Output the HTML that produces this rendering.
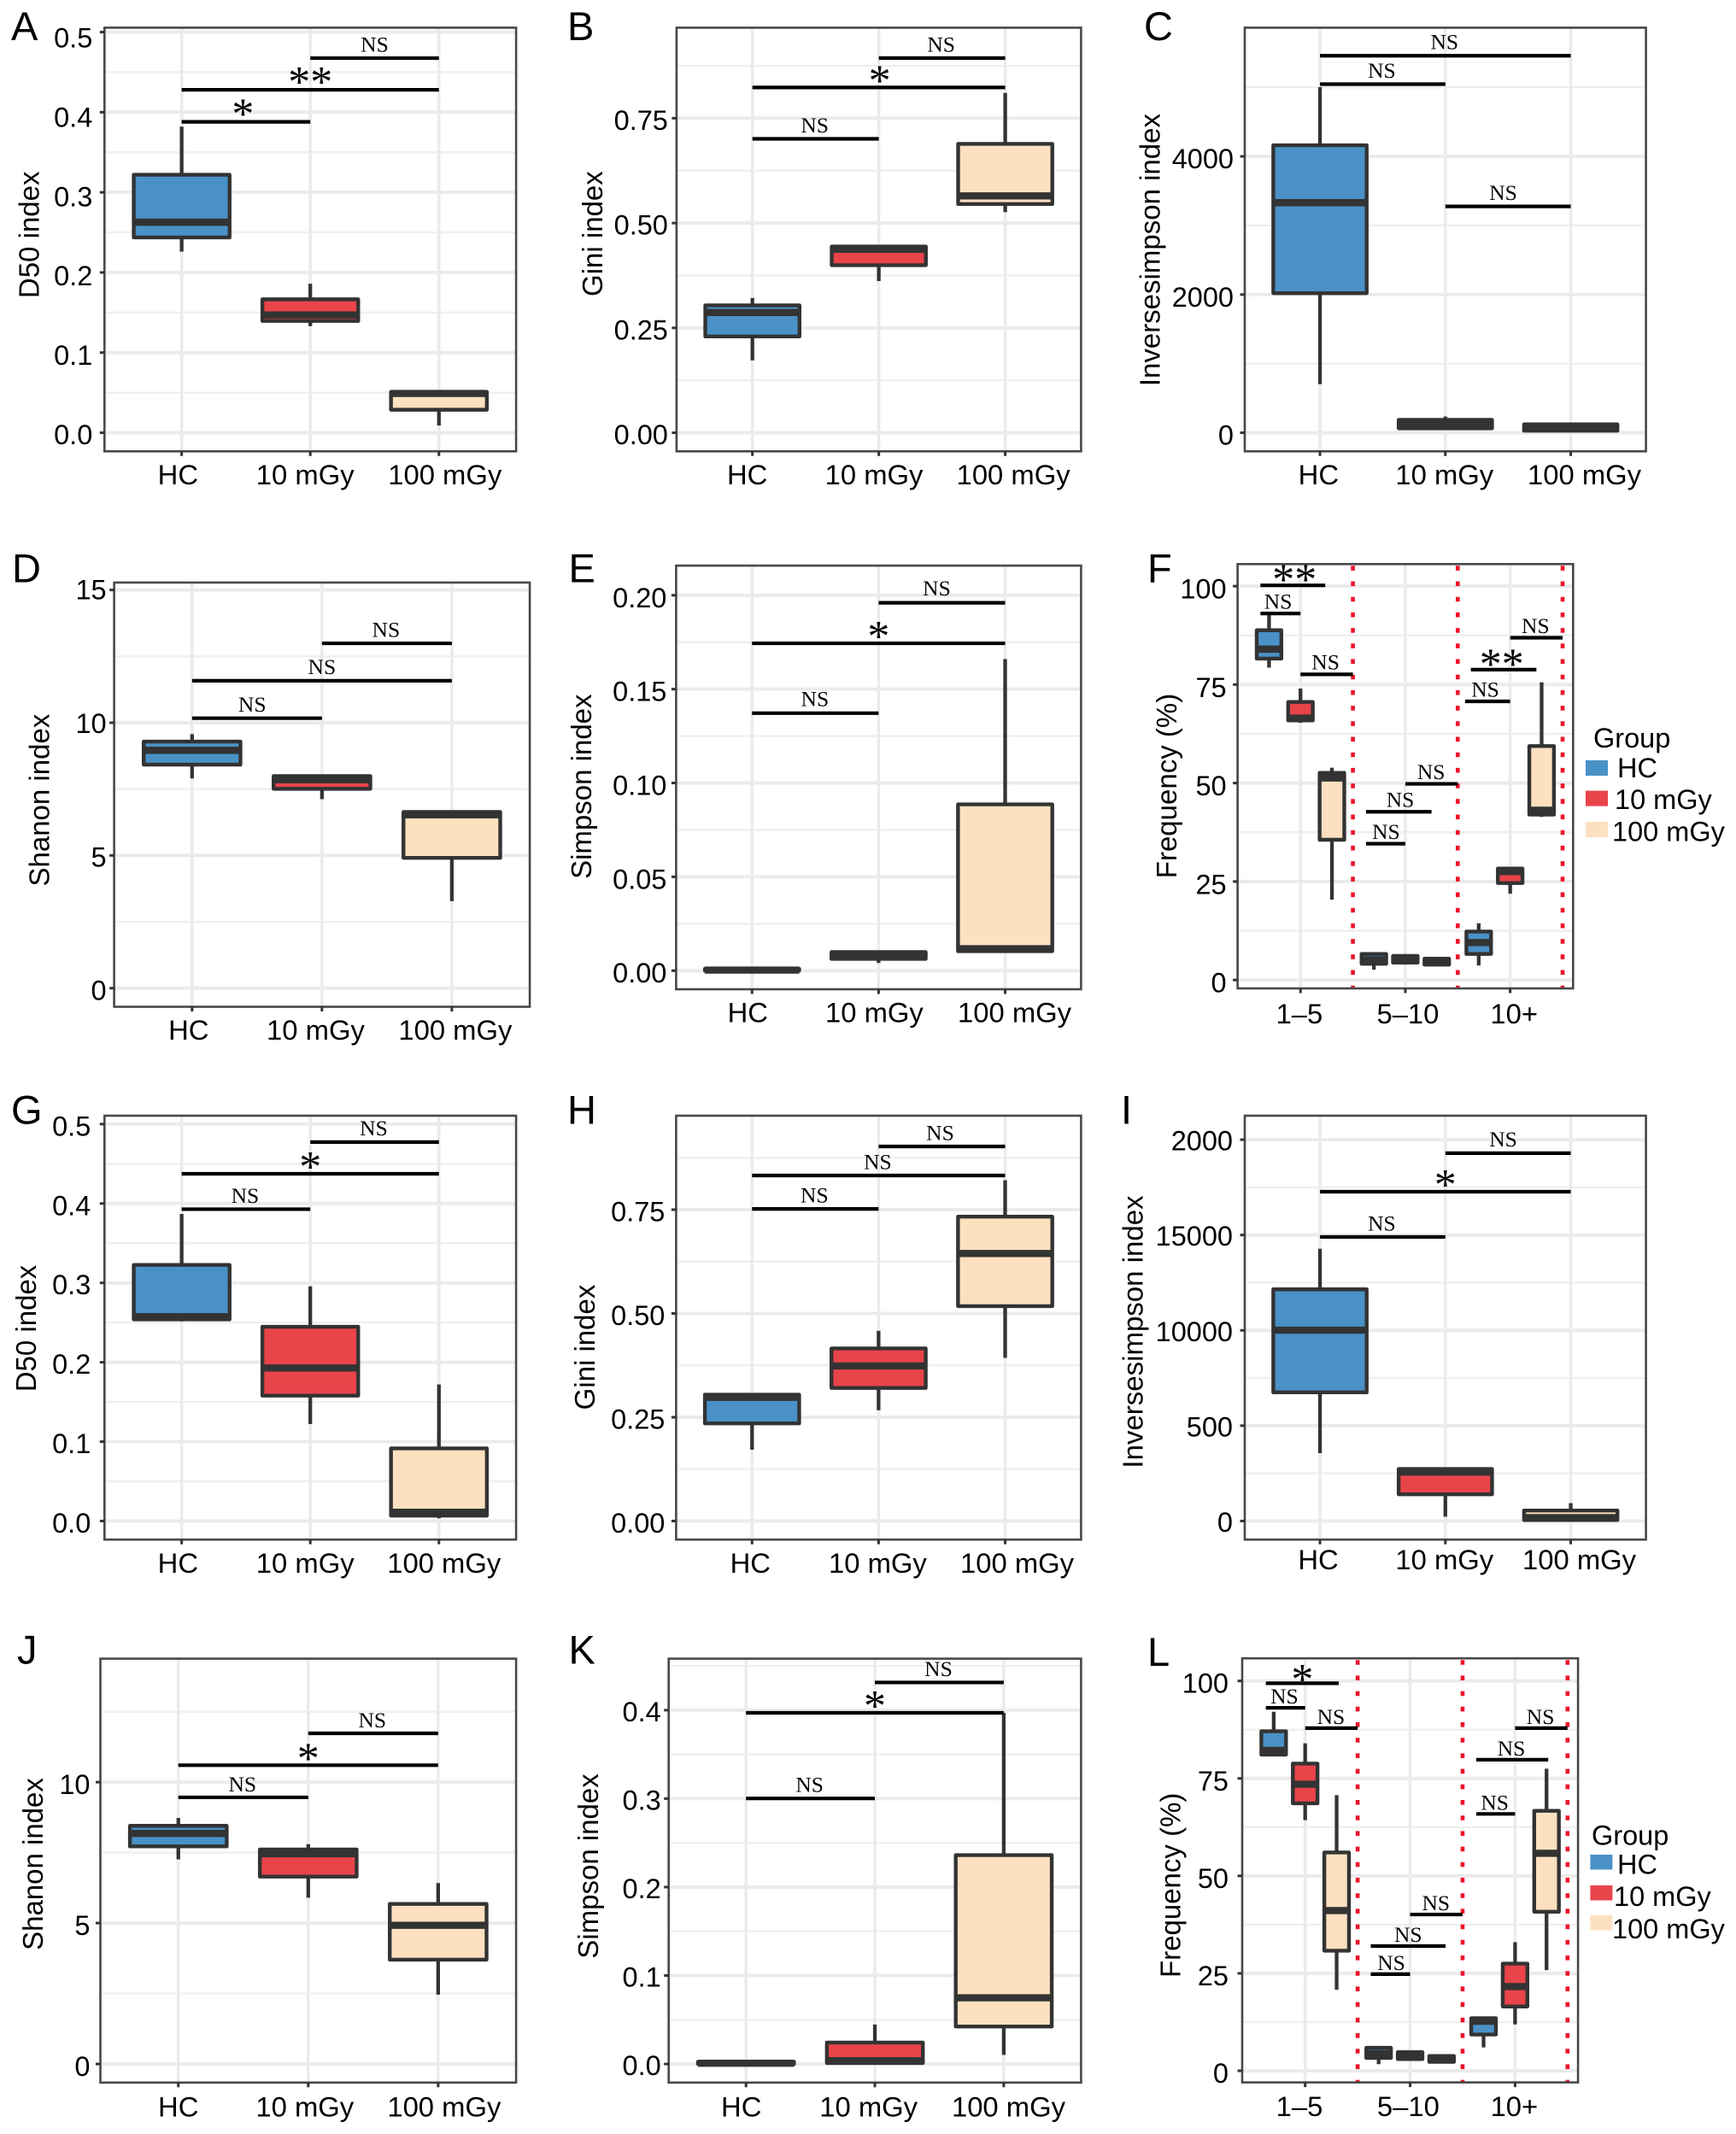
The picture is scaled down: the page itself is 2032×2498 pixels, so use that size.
<!DOCTYPE html>
<html lang="en">
<head>
<meta charset="utf-8">
<title>Diversity index box plots, panels A to L</title>
<style>
html,body{margin:0;padding:0;background:#fff;}
svg{display:block;}
text{font-family:"Liberation Sans",sans-serif;fill:#000;}
.sig{font-family:"Liberation Serif",serif;}
</style>
</head>
<body>
<svg id="figure" xmlns="http://www.w3.org/2000/svg" width="2032" height="2498" viewBox="0 0 2032 2498">
<rect x="0" y="0" width="2032" height="2498" fill="#ffffff"></rect>
</svg>
<script>
/* ---------- shared categories ---------- */
const doseCategories = ['HC', '10 mGy', '100 mGy'];
const cloneBins = ['1–5', '5–10', '10+'];
const legendGroups = ['HC', '10 mGy', '100 mGy'];

/* ---------- panel A ---------- */
const aDomain = [-0.0232, 0.5055];
const aTicks = [0, 0.1, 0.2, 0.3, 0.4, 0.5];
const aTickLabels = ['0.0', '0.1', '0.2', '0.3', '0.4', '0.5'];
const aLow = [0.226, 0.133, 0.009];
const aQ1 = [0.2437, 0.1395, 0.0287];
const aMedian = [0.2627, 0.147, 0.049];
const aQ3 = [0.322, 0.1665, 0.051];
const aHigh = [0.382, 0.186, 0.051];
const aSigFrom = [2, 1, 1];
const aSigTo = [3, 3, 2];
const aSigY = [0.4675, 0.428, 0.388];
const aSigText = ['NS', '**', '*'];

/* ---------- panel B ---------- */
const bDomain = [-0.0443, 0.9659];
const bTicks = [0, 0.25, 0.5, 0.75];
const bTickLabels = ['0.00', '0.25', '0.50', '0.75'];
const bLow = [0.1724, 0.3617, 0.526];
const bQ1 = [0.2296, 0.3996, 0.5454];
const bMedian = [0.2868, 0.4375, 0.5647];
const bQ3 = [0.3037, 0.444, 0.6888];
const bHigh = [0.3214, 0.448, 0.8104];
const bSigFrom = [2, 1, 1];
const bSigTo = [3, 3, 2];
const bSigY = [0.8934, 0.8233, 0.7009];
const bSigText = ['NS', '*', 'NS'];

/* ---------- panel C ---------- */
const cDomain = [-269, 5863];
const cTicks = [0, 2000, 4000];
const cTickLabels = ['0', '2000', '4000'];
const cLow = [704, 60, 5];
const cQ1 = [2020, 64, 29];
const cMedian = [3330, 127, 73];
const cQ3 = [4161, 186, 122];
const cHigh = [5002, 235, 122];
const cSigFrom = [1, 1, 2];
const cSigTo = [3, 2, 3];
const cSigY = [5457, 5046, 3276];
const cSigText = ['NS', 'NS', 'NS'];

/* ---------- panel D ---------- */
const dDomain = [-0.7, 15.28];
const dTicks = [0, 5, 10, 15];
const dTickLabels = ['0', '5', '10', '15'];
const dLow = [7.9, 7.12, 3.28];
const dQ1 = [8.42, 7.51, 4.91];
const dMedian = [8.96, 7.85, 6.53];
const dQ3 = [9.29, 7.99, 6.64];
const dHigh = [9.57, 7.99, 6.64];
const dSigFrom = [2, 1, 1];
const dSigTo = [3, 3, 2];
const dSigY = [12.99, 11.58, 10.17];
const dSigText = ['NS', 'NS', 'NS'];

/* ---------- panel E ---------- */
const eDomain = [-0.0099, 0.2158];
const eTicks = [0, 0.05, 0.1, 0.15, 0.2];
const eTickLabels = ['0.00', '0.05', '0.10', '0.15', '0.20'];
const eLow = [0, 0.0041, 0.0104];
const eQ1 = [0, 0.0063, 0.0104];
const eMedian = [0.0003, 0.0081, 0.0117];
const eQ3 = [0.001, 0.0099, 0.0886];
const eHigh = [0.001, 0.0099, 0.166];
const eSigFrom = [2, 1, 1];
const eSigTo = [3, 3, 2];
const eSigY = [0.196, 0.1744, 0.1372];
const eSigText = ['NS', '*', 'NS'];

/* ---------- panel F (bins x groups, read row by row) ---------- */
const fDomain = [-2.14, 105.6];
const fTicks = [0, 25, 50, 75, 100];
const fTickLabels = ['0', '25', '50', '75', '100'];
const fLow = [79.3, 65.3, 20.4, 2.6, 3.9, 3.9, 3.7, 21.9, 41.4];
const fQ1 = [81.6, 65.9, 35.6, 4.1, 4.4, 3.9, 6.6, 24.6, 42];
const fMedian = [84, 66.5, 51.3, 5.1, 5.2, 4.6, 9.5, 27.5, 43.1];
const fQ3 = [88.8, 70.6, 52.6, 6.6, 6.1, 5.4, 12.3, 28.3, 59.4];
const fHigh = [92.9, 74, 53.9, 6.6, 6.1, 5.8, 14.4, 28.3, 75.6];
const fSigFrom = [0.618, 0.618, 1, 1.625, 1.625, 2, 2.57, 2.625, 3];
const fSigTo = [1.236, 1, 1.5, 2, 2.25, 2.5, 3, 3.25, 3.5];
const fSigY = [100.2, 93.05, 77.6, 34.6, 42.7, 49.8, 70.75, 78.8, 86.9];
const fSigText = ['**', 'NS', 'NS', 'NS', 'NS', 'NS', 'NS', '**', 'NS'];
const fSeparators = [1.5, 2.5, 3.5];

/* ---------- panel G ---------- */
const gDomain = [-0.0234, 0.5106];
const gTicks = [0, 0.1, 0.2, 0.3, 0.4, 0.5];
const gTickLabels = ['0.0', '0.1', '0.2', '0.3', '0.4', '0.5'];
const gLow = [0.2515, 0.1221, 0.0034];
const gQ1 = [0.254, 0.1579, 0.0068];
const gMedian = [0.2574, 0.1928, 0.011];
const gQ3 = [0.3226, 0.2447, 0.0915];
const gHigh = [0.3868, 0.2957, 0.172];
const gSigFrom = [2, 1, 1];
const gSigTo = [3, 3, 2];
const gSigY = [0.4774, 0.4374, 0.3928];
const gSigText = ['NS', '*', 'NS'];

/* ---------- panel H ---------- */
const hDomain = [-0.0448, 0.9764];
const hTicks = [0, 0.25, 0.5, 0.75];
const hTickLabels = ['0.00', '0.25', '0.50', '0.75'];
const hLow = [0.1717, 0.2669, 0.393];
const hQ1 = [0.2351, 0.3206, 0.5175];
const hMedian = [0.2978, 0.3735, 0.6444];
const hQ3 = [0.3043, 0.4158, 0.7331];
const hHigh = [0.3043, 0.4581, 0.821];
const hSigFrom = [2, 1, 1];
const hSigTo = [3, 3, 2];
const hSigY = [0.9023, 0.8324, 0.7518];
const hSigText = ['NS', 'NS', 'NS'];

/* ---------- panel I (tick labels printed as in the source figure) ---------- */
const iDomain = [-974, 21258];
const iTicks = [0, 5000, 10000, 15000, 20000];
const iTickLabels = ['0', '500', '10000', '15000', '2000'];
const iLow = [3561, 230, 18];
const iQ1 = [6749, 1399, 53];
const iMedian = [10009, 2569, 177];
const iQ3 = [12152, 2728, 549];
const iHigh = [14278, 2728, 939];
const iSigFrom = [2, 1, 1];
const iSigTo = [3, 3, 2];
const iSigY = [19292, 17272, 14898];
const iSigText = ['NS', '*', 'NS'];

/* ---------- panel J ---------- */
const jDomain = [-0.659, 14.38];
const jTicks = [0, 5, 10];
const jTickLabels = ['0', '5', '10'];
const jLow = [7.26, 5.9, 2.46];
const jQ1 = [7.72, 6.65, 3.7];
const jMedian = [8.18, 7.46, 4.92];
const jQ3 = [8.45, 7.61, 5.68];
const jHigh = [8.73, 7.8, 6.42];
const jSigFrom = [2, 1, 1];
const jSigTo = [3, 3, 2];
const jSigY = [11.73, 10.6, 9.46];
const jSigText = ['NS', '*', 'NS'];

/* ---------- panel K ---------- */
const kDomain = [-0.021, 0.4582];
const kTicks = [0, 0.1, 0.2, 0.3, 0.4];
const kTickLabels = ['0.0', '0.1', '0.2', '0.3', '0.4'];
const kLow = [0, 0.0008, 0.0103];
const kQ1 = [0, 0.0011, 0.0424];
const kMedian = [0.0008, 0.0037, 0.0748];
const kQ3 = [0.0025, 0.0243, 0.2361];
const kHigh = [0.0025, 0.0446, 0.397];
const kSigFrom = [2, 1, 1];
const kSigTo = [3, 3, 2];
const kSigY = [0.4313, 0.397, 0.3002];
const kSigText = ['NS', '*', 'NS'];

/* ---------- panel L (bins x groups, read row by row) ---------- */
const lDomain = [-2.97, 105.8];
const lTicks = [0, 25, 50, 75, 100];
const lTickLabels = ['0', '25', '50', '75', '100'];
const lLow = [80.9, 64.3, 20.8, 1.7, 2.7, 1.9, 6, 11.9, 25.8];
const lQ1 = [81.1, 68.6, 30.8, 3.3, 3, 2.3, 9.3, 16.5, 40.8];
const lMedian = [82.2, 73.5, 41.1, 4.4, 3.9, 3, 12.7, 21.6, 55.8];
const lQ3 = [87.1, 78.8, 56, 5.9, 4.8, 3.8, 13.5, 27.5, 66.7];
const lHigh = [92.1, 84, 70.7, 5.9, 4.8, 3.8, 13.5, 33, 77.5];
const lSigFrom = [0.625, 0.625, 1, 1.625, 1.625, 2, 2.63, 2.63, 3];
const lSigTo = [1.32, 1, 1.5, 2, 2.338, 2.5, 3, 3.316, 3.5];
const lSigY = [99.4, 93.1, 87.9, 24.8, 32, 40.1, 65.9, 79.8, 87.9];
const lSigText = ['*', 'NS', 'NS', 'NS', 'NS', 'NS', 'NS', 'NS', 'NS'];
const lSeparators = [1.5, 2.5, 3.5];

/* ---------- look ---------- */
const groupColors = ['#4a91c7', '#e8444a', '#fde0bf'];
const INK = '#333333';

/* ---------- drawing helpers ---------- */
const NS = 'http://www.w3.org/2000/svg';
const root = document.getElementById('figure');

function make(tag, attrs, parent, text) {
  const el = document.createElementNS(NS, tag);
  for (const k in attrs) el.setAttribute(k, attrs[k]);
  if (text !== undefined) el.textContent = text;
  parent.appendChild(el);
  return el;
}

function slug(s) {
  return String(s).toLowerCase().replace(/[^a-z0-9]+/g, '-');
}

function drawPanel(cfg) {
  const L = cfg.layout;
  const scaleY = v => L.y1 - (v - cfg.domain[0]) / (cfg.domain[1] - cfg.domain[0]) * (L.y1 - L.y0);
  const unit = (L.x1 - L.x0) / 3.2;
  const scaleX = u => L.x0 + (u - 1 + 0.6) * unit;
  const id = cfg.letter.toLowerCase();

  const g = make('g', {}, root);
  
  

  /* panel background */
  const bg = make('rect', { x: L.x0, y: L.y0, width: L.x1 - L.x0, height: L.y1 - L.y0, fill: '#ffffff' }, g);
  
  

  /* minor grid */
  const step = cfg.ticks[1] - cfg.ticks[0];
  for (let i = -1; i < cfg.ticks.length; i++) {
    const v = cfg.ticks[0] + (i + 0.5) * step;
    if (v <= cfg.domain[0] || v >= cfg.domain[1]) continue;
    const m = make('line', { x1: L.x0, x2: L.x1, y1: scaleY(v), y2: scaleY(v), stroke: '#efefef', 'stroke-width': 2.4 }, g);
    
    
  }
  /* major grid */
  cfg.ticks.forEach(t => {
    const m = make('line', { x1: L.x0, x2: L.x1, y1: scaleY(t), y2: scaleY(t), stroke: '#ebebeb', 'stroke-width': 4 }, g);
    
    
  });
  cfg.categories.forEach((c, i) => {
    const m = make('line', { x1: scaleX(i + 1), x2: scaleX(i + 1), y1: L.y0, y2: L.y1, stroke: '#ebebeb', 'stroke-width': 3.6 }, g);
    
    
  });

  /* dotted separators */
  (cfg.separators || []).forEach(u => {
    const s = make('line', { x1: scaleX(u), x2: scaleX(u), y1: L.y0 + 2, y2: L.y1, stroke: '#ee1229', 'stroke-width': 4.6, 'stroke-dasharray': '5.6 12.6' }, g);
    
    
  });

  /* boxes */
  const dodged = cfg.low.length === 9;
  cfg.low.forEach((_, i) => {
    const group = dodged ? i % 3 : i;
    const u = dodged ? Math.floor(i / 3) + 1 + (group - 1) * 0.3 : i + 1;
    const width = (dodged ? 0.235 : 0.745) * unit;
    const cx = scaleX(u);
    const bx = make('g', {}, g);
    
    

    const up = make('line', { x1: cx, x2: cx, y1: scaleY(cfg.q3[i]), y2: scaleY(cfg.high[i]), stroke: INK, 'stroke-width': 4.3 }, bx);
    
    

    const down = make('line', { x1: cx, x2: cx, y1: scaleY(cfg.q1[i]), y2: scaleY(cfg.low[i]), stroke: INK, 'stroke-width': 4.3 }, bx);
    
    

    const top = scaleY(cfg.q3[i]);
    const bottom = scaleY(cfg.q1[i]);
    const r = make('rect', { x: cx - width / 2, y: top, width: width, height: Math.max(bottom - top, 0.5), fill: groupColors[group], stroke: INK, 'stroke-width': 4.4, 'stroke-linejoin': 'round' }, bx);
    
    

    const med = make('line', { x1: cx - width / 2, x2: cx + width / 2, y1: scaleY(cfg.median[i]), y2: scaleY(cfg.median[i]), stroke: INK, 'stroke-width': 8.4 }, bx);
    
    
  });

  /* significance brackets */
  cfg.sigFrom.forEach((from, i) => {
    const yy = scaleY(cfg.sigY[i]);
    const x1 = scaleX(from);
    const x2 = scaleX(cfg.sigTo[i]);
    const br = make('line', { x1: x1, x2: x2, y1: yy, y2: yy, stroke: '#000000', 'stroke-width': 4.2 }, g);
    
    

    const label = cfg.sigText[i];
    const isStar = label !== 'NS';
    const dx = (L.sigDx && L.sigDx[i]) || 0;
    const ty = isStar ? yy + 24.5 - L.starLift : yy - L.nsGap;
    const t = make('text', { x: (x1 + x2) / 2 + dx, y: ty, 'text-anchor': 'middle', class: 'sig', 'font-size': isStar ? 52 : 25.5, fill: isStar ? '#000' : '#1a1a1a' }, g, label);
    
    
  });

  /* frame */
  const fr = make('rect', { x: L.x0, y: L.y0, width: L.x1 - L.x0, height: L.y1 - L.y0, fill: 'none', stroke: '#484848', 'stroke-width': 2.6 }, g);
  
  

  /* y axis */
  cfg.ticks.forEach((t, i) => {
    const yy = scaleY(t);
    const mark = make('line', { x1: L.x0 - 5.5, x2: L.x0, y1: yy, y2: yy, stroke: INK, 'stroke-width': 3 }, g);
    
    

    const frac = cfg.ticks.length > 1 ? i / (cfg.ticks.length - 1) : 0;
    const shift = L.lblShift[0] + (L.lblShift[1] - L.lblShift[0]) * frac;
    const lab = make('text', { x: L.x0 - L.gap, y: yy + shift, 'text-anchor': 'end', 'font-size': 32.5 }, g, cfg.tickLabels[i]);
    
    
  });

  /* x axis */
  cfg.categories.forEach((c, i) => {
    const cx = scaleX(i + 1);
    const mark = make('line', { x1: cx, x2: cx, y1: L.y1, y2: L.y1 + 5.5, stroke: INK, 'stroke-width': 3 }, g);
    
    

    const lab = make('text', { x: cx + L.xs[i], y: L.y1 + L.xdy, 'text-anchor': 'middle', 'font-size': 32.8 }, g, c);
    
    
  });

  /* axis title */
  const title = make('text', { transform: 'translate(' + L.tx + ' ' + L.ty + ') rotate(-90)', 'text-anchor': 'middle', 'font-size': 33 }, g, cfg.title);
  
  

  /* panel letter */
  const letter = make('text', { x: L.lx, y: L.ly, 'font-size': 47 }, g, cfg.letter);
  
  
}

function drawLegend(cfg) {
  const g = make('g', {}, root);
  
  

  const head = make('text', { x: cfg.titleX, y: cfg.titleY, 'font-size': 32.5 }, g, 'Group');
  
  

  legendGroups.forEach((name, i) => {
    const sw = make('rect', { x: cfg.swatchX, y: cfg.swatchY[i], width: 26, height: cfg.swatchH, fill: groupColors[i] }, g);
    
    

    const lab = make('text', { x: cfg.labelX[i], y: cfg.labelY[i], 'font-size': 32.5 }, g, name);
    
    
  });
}

/* ---------- layout (page geometry only) ---------- */
const rowA = { y0: 32.4, y1: 528.3 };
const rowB = { y0: 1306, y1: 1802.2 };
const rowC = { y0: 1941.6, y1: 2437.8 };

drawPanel({
  letter: 'A', title: 'D50 index', categories: doseCategories, domain: aDomain, ticks: aTicks, tickLabels: aTickLabels,
  low: aLow, q1: aQ1, median: aMedian, q3: aQ3, high: aHigh, sigFrom: aSigFrom, sigTo: aSigTo, sigY: aSigY, sigText: aSigText,
  layout: { x0: 122.3, x1: 604.1, y0: rowA.y0, y1: rowA.y1, gap: 14, xdy: 38.8, xs: [-4.3, -6, 7], lblShift: [13.5, 18], tx: 45.5, ty: 274.8, lx: 13, ly: 47, nsGap: 7.7, starLift: 16.5, sigDx: [0, 0, -3.5] }
});
drawPanel({
  letter: 'B', title: 'Gini index', categories: doseCategories, domain: bDomain, ticks: bTicks, tickLabels: bTickLabels,
  low: bLow, q1: bQ1, median: bMedian, q3: bQ3, high: bHigh, sigFrom: bSigFrom, sigTo: bSigTo, sigY: bSigY, sigText: bSigText,
  layout: { x0: 791.9, x1: 1265.4, y0: rowA.y0, y1: rowA.y1, gap: 10, xdy: 38.8, xs: [-6, -5.6, 9.5], lblShift: [13.5, 13.5], tx: 705, ty: 273.6, lx: 664, ly: 47, nsGap: 7.7, starLift: 15.5, sigDx: [-1, 1, -1] }
});
drawPanel({
  letter: 'C', title: 'Inversesimpson index', categories: doseCategories, domain: cDomain, ticks: cTicks, tickLabels: cTickLabels,
  low: cLow, q1: cQ1, median: cMedian, q3: cQ3, high: cHigh, sigFrom: cSigFrom, sigTo: cSigTo, sigY: cSigY, sigText: cSigText,
  layout: { x0: 1457, x1: 1926.6, y0: rowA.y0, y1: rowA.y1, gap: 13, xdy: 38.5, xs: [-1.7, -1, 16], lblShift: [14, 14], tx: 1357.7, ty: 292.6, lx: 1339, ly: 47, nsGap: 7.7, starLift: 15.5, sigDx: [-1, -1, -5.6] }
});
drawPanel({
  letter: 'D', title: 'Shanon index', categories: doseCategories, domain: dDomain, ticks: dTicks, tickLabels: dTickLabels,
  low: dLow, q1: dQ1, median: dMedian, q3: dQ3, high: dHigh, sigFrom: dSigFrom, sigTo: dSigTo, sigY: dSigY, sigText: dSigText,
  layout: { x0: 133.6, x1: 620.1, y0: 681.9, y1: 1178.5, gap: 9, xdy: 38.5, xs: [-4, -7.4, 4], lblShift: [14, 11], tx: 57.7, ty: 936.6, lx: 14, ly: 681.5, nsGap: 7.7, starLift: 15.5, sigDx: [-1, 0, -5.6] }
});
drawPanel({
  letter: 'E', title: 'Simpson index', categories: doseCategories, domain: eDomain, ticks: eTicks, tickLabels: eTickLabels,
  low: eLow, q1: eQ1, median: eMedian, q3: eQ3, high: eHigh, sigFrom: eSigFrom, sigTo: eSigTo, sigY: eSigY, sigText: eSigText,
  layout: { x0: 791.4, x1: 1265.4, y0: 662.1, y1: 1158, gap: 11, xdy: 38.5, xs: [-5, -5, 11], lblShift: [14, 14], tx: 692, ty: 920.7, lx: 665.5, ly: 681.5, nsGap: 8.5, starLift: 15.5, sigDx: [-6, 0, -0.5] }
});
drawPanel({
  letter: 'F', title: 'Frequency (%)', categories: cloneBins, domain: fDomain, ticks: fTicks, tickLabels: fTickLabels, separators: fSeparators,
  low: fLow, q1: fQ1, median: fMedian, q3: fQ3, high: fHigh, sigFrom: fSigFrom, sigTo: fSigTo, sigY: fSigY, sigText: fSigText,
  layout: { x0: 1448.6, x1: 1841.3, y0: 660.3, y1: 1157, gap: 13, xdy: 41, xs: [-1.3, 3, 4.5], lblShift: [14.5, 14.5], tx: 1377, ty: 920, lx: 1343, ly: 681.3, nsGap: 5.7, starLift: 14, sigDx: [2, -2.7, -1.3, 0.5, 1.8, -0.5, -2.7, -2.2, -1] }
});
drawPanel({
  letter: 'G', title: 'D50 index', categories: doseCategories, domain: gDomain, ticks: gTicks, tickLabels: gTickLabels,
  low: gLow, q1: gQ1, median: gMedian, q3: gQ3, high: gHigh, sigFrom: gSigFrom, sigTo: gSigTo, sigY: gSigY, sigText: gSigText,
  layout: { x0: 122.3, x1: 604.1, y0: rowB.y0, y1: rowB.y1, gap: 16, xdy: 38.8, xs: [-4.3, -6, 6], lblShift: [13.5, 13.5], tx: 42, ty: 1555, lx: 13, ly: 1315.5, nsGap: 7.7, starLift: 15.5, sigDx: [-1, 0, -1] }
});
drawPanel({
  letter: 'H', title: 'Gini index', categories: doseCategories, domain: hDomain, ticks: hTicks, tickLabels: hTickLabels,
  low: hLow, q1: hQ1, median: hMedian, q3: hQ3, high: hHigh, sigFrom: hSigFrom, sigTo: hSigTo, sigY: hSigY, sigText: hSigText,
  layout: { x0: 791.4, x1: 1265.4, y0: rowB.y0, y1: rowB.y1, gap: 13, xdy: 39, xs: [-2, -1, 14], lblShift: [13.5, 13.5], tx: 696, ty: 1577, lx: 664, ly: 1315.5, nsGap: 7.7, starLift: 15.5, sigDx: [-2, -1, -1] }
});
drawPanel({
  letter: 'I', title: 'Inversesimpson index', categories: doseCategories, domain: iDomain, ticks: iTicks, tickLabels: iTickLabels,
  low: iLow, q1: iQ1, median: iMedian, q3: iQ3, high: iHigh, sigFrom: iSigFrom, sigTo: iSigTo, sigY: iSigY, sigText: iSigText,
  layout: { x0: 1457, x1: 1926.6, y0: rowB.y0, y1: rowB.y1, gap: 14, xdy: 34.8, xs: [-2, -1, 10], lblShift: [12.5, 12.5], tx: 1337.7, ty: 1559, lx: 1312, ly: 1315.5, nsGap: 7.7, starLift: 15.5, sigDx: [-5.6, 0, -1] }
});
drawPanel({
  letter: 'J', title: 'Shanon index', categories: doseCategories, domain: jDomain, ticks: jTicks, tickLabels: jTickLabels,
  low: jLow, q1: jQ1, median: jMedian, q3: jQ3, high: jHigh, sigFrom: jSigFrom, sigTo: jSigTo, sigY: jSigY, sigText: jSigText,
  layout: { x0: 117.5, x1: 604.1, y0: rowC.y0, y1: rowC.y1, gap: 12, xdy: 39.5, xs: [0, -4, 7], lblShift: [14, 14], tx: 50, ty: 2182, lx: 20, ly: 1947.7, nsGap: 7, starLift: 15.5, sigDx: [-1, 0, -1] }
});
drawPanel({
  letter: 'K', title: 'Simpson index', categories: doseCategories, domain: kDomain, ticks: kTicks, tickLabels: kTickLabels,
  low: kLow, q1: kQ1, median: kMedian, q3: kQ3, high: kHigh, sigFrom: kSigFrom, sigTo: kSigTo, sigY: kSigY, sigText: kSigText,
  layout: { x0: 782.7, x1: 1265.4, y0: rowC.y0, y1: rowC.y1, gap: 9, xdy: 39.5, xs: [-5.5, -7.4, 5.6], lblShift: [13, 13], tx: 700, ty: 2184.5, lx: 665.5, ly: 1947.7, nsGap: 7.5, starLift: 15.5, sigDx: [-1, 0, -1] }
});
drawPanel({
  letter: 'L', title: 'Frequency (%)', categories: cloneBins, domain: lDomain, ticks: lTicks, tickLabels: lTickLabels, separators: lSeparators,
  low: lLow, q1: lQ1, median: lMedian, q3: lQ3, high: lHigh, sigFrom: lSigFrom, sigTo: lSigTo, sigY: lSigY, sigText: lSigText,
  layout: { x0: 1454, x1: 1847.1, y0: 1941.2, y1: 2437.6, gap: 16, xdy: 39.5, xs: [-6.7, -2.2, -1], lblShift: [14, 14], tx: 1381.5, ty: 2206.8, lx: 1343, ly: 1950, nsGap: 5, starLift: 12, sigDx: [0, -1.3, -0.5, 1, 0, -0.5, -1, -1, -1] }
});

drawLegend({ id: 'f', titleX: 1865, titleY: 875, swatchX: 1856, swatchY: [890, 925.6, 962], swatchH: 18, labelX: [1893, 1890, 1887], labelY: [910, 947, 984.6] });
drawLegend({ id: 'l', titleX: 1863, titleY: 2159.5, swatchX: 1861.4, swatchY: [2171, 2207, 2242], swatchH: 17.5, labelX: [1893, 1889, 1887], labelY: [2193.6, 2231, 2269] });
</script>
</body>
</html>
